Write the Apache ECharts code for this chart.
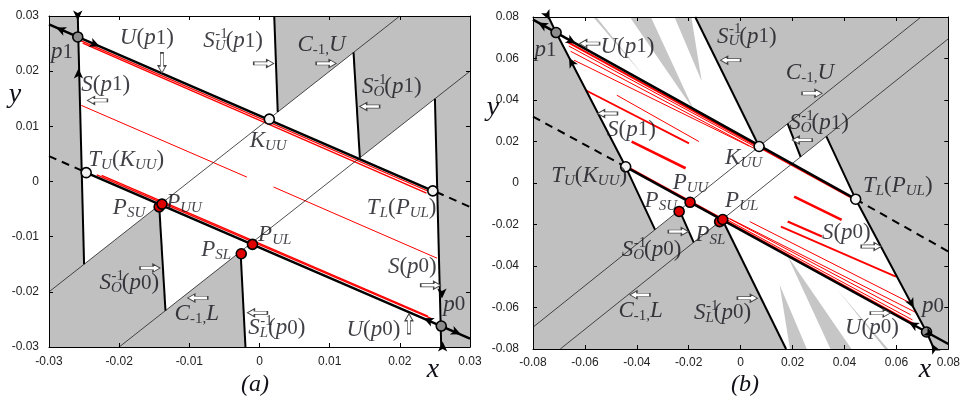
<!DOCTYPE html>
<html><head><meta charset="utf-8">
<script src="https://cdn.jsdelivr.net/npm/echarts@6/dist/echarts.min.js"></script>
<style>html,body{margin:0;padding:0;background:#fff}#c{width:963px;height:405px}</style>
</head><body><div id="c"></div>
<script>
// ================= Panel (a) =================
const aTicks = [-0.03, -0.02, -0.01, 0, 0.01, 0.02, 0.03];
const aGray = [
  [[-0.03,0.03],[-0.0259,0.03],[-0.025,-0.015],[-0.0143,-0.0043],[-0.0134,-0.0234],[-0.0027,-0.0127],[-0.002,-0.03],[-0.03,-0.03]],
  [[0.03,-0.03],[0.0259,-0.03],[0.025,0.015],[0.0143,0.0043],[0.0134,0.0234],[0.0026,0.0126],[0.0021,0.03],[0.03,0.03]]
];
const aUnstable = [
  [[-0.03,0.0285],[-0.0259,0.0262],[0.0247,-0.0017]],
  [[-0.0247,0.0016],[0.0259,-0.0262],[0.03,-0.0285]]
];
const aDashed = [[[-0.03,0.0046],[-0.0252,0.0019]],[[0.0252,-0.0019],[0.03,-0.0046]]];
const aStable = [
  [[-0.0259,0.03],[-0.025,-0.015]],
  [[0.025,0.015],[0.0259,-0.03]],
  [[0.0021,0.03],[0.0026,0.0126]],
  [[0.0134,0.0234],[0.0143,0.0043]],
  [[-0.0143,-0.0043],[-0.0134,-0.0234]],
  [[-0.0027,-0.0127],[-0.002,-0.03]]
];
const aCrit = [[[-0.03,-0.02],[0.02,0.03]],[[-0.02,-0.03],[0.03,0.02]]];
const aRed = [
  [[-0.0254,0.0255],[0.0243,-0.0019]],
  [[-0.0252,0.0251],[0.0238,-0.0021]],
  [[-0.0254,0.0138],[-0.0018,0.0008]],
  [[0.0020,-0.0010],[0.0253,-0.0139]],
  [[-0.0232,0.0012],[0.0246,-0.0249]],
  [[-0.0225,0.0011],[0.0240,-0.0244]]
];
const aSaddles = [[-0.0259,0.0262],[0.0259,-0.0262]];
const aOpenPts = [[0.0014,0.0113],[-0.0247,0.0016],[0.0247,-0.0017]];
const aRedPts = [[-0.0143,-0.0046],[-0.0139,-0.0041],[-0.0010,-0.0114],[-0.0026,-0.0131]];
const aHeadPos = [[-0.029,0.0279],[-0.0228,0.0245],[-0.0259,0.0292],[-0.0258,0.0205],[0.0234,-0.0248],[0.0287,-0.0277],[0.026,-0.0212],[0.0261,-0.029]];
const aArrowPos = [[-0.0139,0.0215],[0.0006,0.0214],[0.0095,0.0214],[-0.0231,0.0147],[0.0157,0.0136],[-0.0156,-0.0157],[-0.0088,-0.0211],[-0.0003,-0.0238],[0.0244,-0.0188],[0.0213,-0.0258]];
const aLabels = ['p1','U(p1)','SU(p1)','C-1,U','S(p1)','SO(p1)','KUU','TU(KUU)','PUU','PSU','TL(PUL)','PUL','PSL','S(p0)','SO(p0)','C-1,L','SL(p0)','U(p0)','p0'];
const aLabelPos = [[-0.0297,0.0234],[-0.0199,0.0260],[-0.0080,0.0254],[0.0054,0.0247],[-0.0254,0.0175],[0.0146,0.0172],[-0.0014,0.0073],[-0.0244,0.0039],[-0.0133,-0.0039],[-0.0209,-0.0048],[0.0153,-0.0048],[-0.0002,-0.0097],[-0.0083,-0.0124],[0.0183,-0.0154],[-0.0228,-0.0184],[-0.0121,-0.0241],[-0.0016,-0.0266],[0.0124,-0.0269],[0.0262,-0.0223]];

// ================= Panel (b) =================
const bTicks = [-0.08, -0.06, -0.04, -0.02, 0, 0.02, 0.04, 0.06, 0.08];
const bWhite = [
  [[-0.0740,0.08],[-0.0175,0.08],[0.0071,0.0176],[0.0181,0.0286],[0.0231,0.0126],[0.0330,0.0225],[0.0443,-0.0078],[0.0716,-0.0718],[0.0745,-0.08],
   [0.0175,-0.08],[-0.0071,-0.0176],[-0.0181,-0.0286],[-0.0236,-0.0131],[-0.0330,-0.0225],[-0.0443,0.0078],[-0.0711,0.0725]]
];
const bSpikes = [
  [[-0.0568,0.08],[-0.0556,0.08],[-0.037,0.0511]],
  [[-0.0427,0.08],[-0.0346,0.08],[-0.018,0.0351]],
  [[-0.0255,0.08],[-0.0190,0.08],[-0.0150,0.049]],
  [[0.0568,-0.08],[0.0556,-0.08],[0.037,-0.0511]],
  [[0.0427,-0.08],[0.0346,-0.08],[0.018,-0.0351]],
  [[0.0255,-0.08],[0.0190,-0.08],[0.0150,-0.049]]
];
const bUnstable = [
  [[-0.08,0.0787],[-0.0711,0.0725],[0.0443,-0.0078]],
  [[-0.0443,0.0078],[0.0716,-0.0718],[0.08,-0.0776]]
];
const bDashed = [[[-0.08,0.032],[-0.0443,0.0078]],[[0.0443,-0.0078],[0.08,-0.033]]];
const bStable = [
  [[-0.0740,0.08],[-0.0711,0.0725],[-0.0443,0.0078],[-0.0330,-0.0225]],
  [[0.0330,0.0225],[0.0443,-0.0078],[0.0716,-0.0718],[0.0745,-0.08]],
  [[-0.0175,0.08],[0.0071,0.0176]],
  [[-0.0071,-0.0176],[0.0175,-0.08]],
  [[0.0181,0.0286],[0.0231,0.0126]],
  [[-0.0236,-0.0131],[-0.0181,-0.0286]]
];
const bCrit = [[[-0.08,-0.0695],[0.0695,0.08]],[[-0.0695,-0.08],[0.08,0.0695]]];
const bRed = [
  [[-0.0668,0.0680],[0.0430,-0.0073]],
  [[-0.0662,0.0660],[0.0070,0.0165]],
  [[-0.0655,0.0635],[0.0050,0.0168]],
  [[-0.0642,0.0592],[0.0033,0.0178]],
  [[-0.0597,0.0447],[-0.0199,0.0191]],
  [[-0.0477,0.0423],[-0.0161,0.0200]],
  [[-0.0420,0.0199],[-0.0212,0.0071]],
  [[-0.0430,0.0073],[0.0668,-0.0680]],
  [[-0.0070,-0.0165],[0.0662,-0.0660]],
  [[-0.0050,-0.0168],[0.0655,-0.0635]],
  [[-0.0041,-0.0172],[0.0680,-0.0627]],
  [[0.0035,-0.0186],[0.0655,-0.0579]],
  [[0.0155,-0.0210],[0.0598,-0.0451]],
  [[0.0181,-0.0186],[0.0313,-0.0258]],
  [[0.0206,-0.0066],[0.0389,-0.0178]]
];
const bSaddles = [[-0.0711,0.0725],[0.0716,-0.0718]];
const bOpenPts = [[0.0071,0.0176],[-0.0443,0.0078],[0.0443,-0.0078]];
const bRedPts = [[-0.0237,-0.0137],[-0.0195,-0.0093],[-0.0081,-0.0186],[-0.0069,-0.0176]];
const bHeadPos = [[-0.0781,0.0773],[-0.0635,0.0672],[-0.0736,0.0785],[-0.0661,0.0604],[0.0648,-0.0671],[0.0745,-0.0738],[0.0667,-0.0603],[0.0736,-0.0775]];
const bArrowPos = [[-0.0582,0.0672],[-0.0039,0.0592],[0.0275,0.0432],[0.0237,0.0207],[-0.0513,0.0335],[-0.024,-0.0234],[-0.0388,-0.0539],[0.0026,-0.0555],[0.0503,-0.0306],[0.0538,-0.0627]];
const bLabels = aLabels;
const bLabelPos = [[-0.0794,0.0641],[-0.0540,0.0658],[-0.0091,0.0706],[0.0174,0.0529],[-0.0515,0.0256],[0.0187,0.0289],[-0.0060,0.0120],[-0.0730,0.0032],[-0.0262,0.0000],[-0.0370,-0.0088],[0.0471,-0.0016],[-0.0060,-0.0088],[-0.0174,-0.0249],[0.0313,-0.0240],[-0.0458,-0.0321],[-0.0471,-0.0617],[-0.0180,-0.0625],[0.0402,-0.0697],[0.0699,-0.0593]];

// ---- directions (styling) ----
const aHeadRot = [66.5,-113.5,180,0,66.5,-113.5,180,0];
const bHeadRot = [61,-119,-154,28,61,-119,-152,28];
const aArrowRot = [-90,0,0,180,180,0,180,180,0,90];
const bArrowRot = [180,180,0,180,180,0,180,0,0,0];

const SERIF = 'Liberation Serif';
const INK = '#101018';
const RICH = {
  I: {fontFamily:SERIF, fontStyle:'italic', fontSize:23, lineHeight:25, color:INK},
  R: {fontFamily:SERIF, fontSize:23, lineHeight:25, color:INK},
  D: {fontFamily:SERIF, fontSize:21, lineHeight:25, color:INK},
  s: {fontFamily:SERIF, fontStyle:'italic', fontSize:15, lineHeight:15, verticalAlign:'bottom', color:INK},
  c: {fontFamily:SERIF, fontSize:15, lineHeight:15, verticalAlign:'bottom', color:INK},
  sp:{fontFamily:SERIF, fontSize:15, lineHeight:15, color:INK}
};
const TXT = {
  'p1':'{I|p}{D|1}', 'p0':'{I|p}{D|0}',
  'U(p1)':'{I|U}{R|(}{I|p}{D|1}{R|)}', 'U(p0)':'{I|U}{R|(}{I|p}{D|0}{R|)}',
  'S(p1)':'{I|S}{R|(}{I|p}{D|1}{R|)}', 'S(p0)':'{I|S}{R|(}{I|p}{D|0}{R|)}',
  'SU(p1)':'{I|S}{s|U}{R|(}{I|p}{D|1}{R|)}', 'SO(p1)':'{I|S}{s|O}{R|(}{I|p}{D|1}{R|)}',
  'SO(p0)':'{I|S}{s|O}{R|(}{I|p}{D|0}{R|)}', 'SL(p0)':'{I|S}{s|L}{R|(}{I|p}{D|0}{R|)}',
  'C-1,U':'{I|C}{c|-1,}{I|U}', 'C-1,L':'{I|C}{c|-1,}{I|L}',
  'KUU':'{I|K}{s|UU}', 'TU(KUU)':'{I|T}{s|U}{R|(}{I|K}{s|UU}{R|)}',
  'PUU':'{I|P}{s|UU}', 'PSU':'{I|P}{s|SU}', 'PUL':'{I|P}{s|UL}', 'PSL':'{I|P}{s|SL}',
  'TL(PUL)':'{I|T}{s|L}{R|(}{I|P}{s|UL}{R|)}'
};
const ARROW_PATH = 'path://M0,3L13,3L13,0L20,5L13,10L13,7L0,7Z';

function fmt(v){ const r = Math.round(v*100)/100; return r === 0 ? '0' : String(r); }

function polySeries(g, polys, color, z){
  return {type:'custom', xAxisIndex:g, yAxisIndex:g, z, silent:true, clip:true, animation:false,
    data: polys.map(p => p[0]),
    renderItem: (params, api) => ({type:'polygon', shape:{points: polys[params.dataIndex].map(pt => api.coord(pt))}, style:{fill:color}})};
}
function lineSeries(g, coords, color, width, type, z){
  return {type:'line', xAxisIndex:g, yAxisIndex:g, data:coords, showSymbol:false, symbol:'none', silent:true, z,
    animation:false, clip:true, lineStyle:{color, width, type}};
}
function pointSeries(g, pts, fill, z){
  return {type:'scatter', xAxisIndex:g, yAxisIndex:g, data:pts, symbol:'circle', symbolSize:10, silent:true, z, animation:false,
    itemStyle:{color:fill, borderColor:'#000', borderWidth:1.6, opacity:1}};
}
function headSeries(g, pos, rot){
  return {type:'scatter', xAxisIndex:g, yAxisIndex:g, symbol:'arrow', symbolSize:[7,10], silent:true, z:9, animation:false,
    data: pos.map((p,i) => ({value:p, symbolRotate:rot[i]})), itemStyle:{color:'#000', opacity:1}};
}
function arrowSeries(g, pos, rot){
  return {type:'scatter', xAxisIndex:g, yAxisIndex:g, symbol:ARROW_PATH, symbolSize:[20,8], silent:true, z:9, animation:false,
    data: pos.map((p,i) => ({value:p, symbolRotate:rot[i]})), itemStyle:{color:'#fff', borderColor:'#444', borderWidth:1, opacity:1}};
}
function labelSeries(g, names, pos){
  return {type:'scatter', xAxisIndex:g, yAxisIndex:g, symbolSize:1, silent:true, z:20, animation:false,
    itemStyle:{color:'rgba(0,0,0,0)'},
    data: names.map((n,i) => ({name:n, value:pos[i]})),
    label:{show:true, position:'inside', align:'left', verticalAlign:'middle', formatter: p => TXT[p.name], rich:RICH}};
}
function supSeries(g, names, pos){
  const data = [];
  names.forEach((n,i) => { if (/^S[UOL]\(/.test(n)) data.push({name:n, value:pos[i]}); });
  return {type:'scatter', xAxisIndex:g, yAxisIndex:g, symbolSize:1, silent:true, z:20, animation:false,
    itemStyle:{color:'rgba(0,0,0,0)'}, data,
    label:{show:true, position:'inside', align:'left', verticalAlign:'middle', offset:[12,-7], formatter:'{sp|-1}', rich:RICH}};
}
function panelSeries(g, d){
  const s = [];
  if (d.white) s.push(polySeries(g, d.white, '#ffffff', 1));
  if (d.spikes) s.push(polySeries(g, d.spikes, '#c6c6c6', 1));
  if (d.gray) s.push(polySeries(g, d.gray, '#c0c0c0', 1));
  d.red.forEach((c,i) => s.push(lineSeries(g, c, '#ff0000', d.redW[i] || 1.2, 'solid', 3)));
  d.crit.forEach(c => s.push(lineSeries(g, c, '#222', 0.8, 'solid', 4)));
  d.stable.forEach(c => s.push(lineSeries(g, c, '#000', 2, 'solid', 5)));
  d.unstable.forEach(c => s.push(lineSeries(g, c, '#000', 2.5, 'solid', 5)));
  d.dashed.forEach(c => s.push(lineSeries(g, c, '#000', 2, [8,6], 5)));
  s.push(pointSeries(g, d.saddles, '#8c8c8c', 8));
  s.push(pointSeries(g, d.open, '#f2f2f2', 8));
  s.push(pointSeries(g, d.redPts, '#e00000', 8));
  s.push(headSeries(g, d.headPos, d.headRot));
  s.push(arrowSeries(g, d.arrowPos, d.arrowRot));
  s.push(labelSeries(g, d.labels, d.labelPos));
  s.push(supSeries(g, d.labels, d.labelPos));
  return s;
}

const series = [].concat(
  panelSeries(0, {gray:aGray, red:aRed, redW:[1.3,1.3,1,1,1.3,1.3], crit:aCrit, stable:aStable, unstable:aUnstable, dashed:aDashed,
    saddles:aSaddles, open:aOpenPts, redPts:aRedPts, headPos:aHeadPos, headRot:aHeadRot, arrowPos:aArrowPos, arrowRot:aArrowRot,
    labels:aLabels, labelPos:aLabelPos}),
  panelSeries(1, {white:bWhite, spikes:bSpikes, red:bRed, redW:[2,1,1,1,1.8,1,2.6,2.2,1,1,1,1,1.8,2.2,2.6], crit:bCrit, stable:bStable, unstable:bUnstable, dashed:bDashed,
    saddles:bSaddles, open:bOpenPts, redPts:bRedPts, headPos:bHeadPos, headRot:bHeadRot, arrowPos:bArrowPos, arrowRot:bArrowRot,
    labels:bLabels, labelPos:bLabelPos})
);

function axis(g, tk, iv, pos, showLabel, margin){
  return {type:'value', gridIndex:g, min:tk[0], max:tk[tk.length-1], interval:iv, position:pos, z:10,
    axisLine:{show:true, onZero:false, lineStyle:{color:'#000', width:1}},
    axisTick:{show:true, inside:true, length:4, lineStyle:{color:'#000', width:1}},
    axisLabel:{show:showLabel, margin, fontFamily:'Liberation Sans', fontSize:12, color:'#222', formatter:fmt},
    splitLine:{show:false}};
}

const option = {
  animation:false,
  backgroundColor:'#ffffff',
  grid:[
    {left:49, top:16, width:421, height:331, show:true, backgroundColor:'#ffffff', borderWidth:0},
    {left:533, top:17, width:422, height:332, show:true, backgroundColor:'#c0c0c0', borderWidth:0}
  ],
  xAxis:[
    axis(0,aTicks,0.01,'bottom',true,9), axis(1,bTicks,0.02,'bottom',true,8),
    axis(0,aTicks,0.01,'top',false,8), axis(1,bTicks,0.02,'top',false,8)
  ],
  yAxis:[
    axis(0,aTicks,0.01,'left',true,10), axis(1,bTicks,0.02,'left',true,14),
    axis(0,aTicks,0.01,'right',false,8), axis(1,bTicks,0.02,'right',false,8)
  ],
  graphic:[
    {type:'text', x:433, y:370, style:{text:'x', font:'italic 28px "Liberation Serif"', fill:INK, align:'center', verticalAlign:'middle'}},
    {type:'text', x:925, y:370, style:{text:'x', font:'italic 28px "Liberation Serif"', fill:INK, align:'center', verticalAlign:'middle'}},
    {type:'text', x:15, y:95, style:{text:'y', font:'italic 28px "Liberation Serif"', fill:INK, align:'center', verticalAlign:'middle'}},
    {type:'text', x:493, y:108, style:{text:'y', font:'italic 28px "Liberation Serif"', fill:INK, align:'center', verticalAlign:'middle'}},
    {type:'text', x:255, y:385, style:{text:'(a)', font:'italic 24px "Liberation Serif"', fill:INK, align:'center', verticalAlign:'middle'}},
    {type:'text', x:745, y:385, style:{text:'(b)', font:'italic 24px "Liberation Serif"', fill:INK, align:'center', verticalAlign:'middle'}}
  ],
  series
};
const chart = echarts.init(document.getElementById('c'), null, {renderer:'canvas'});
chart.setOption(option);
</script></body></html>
